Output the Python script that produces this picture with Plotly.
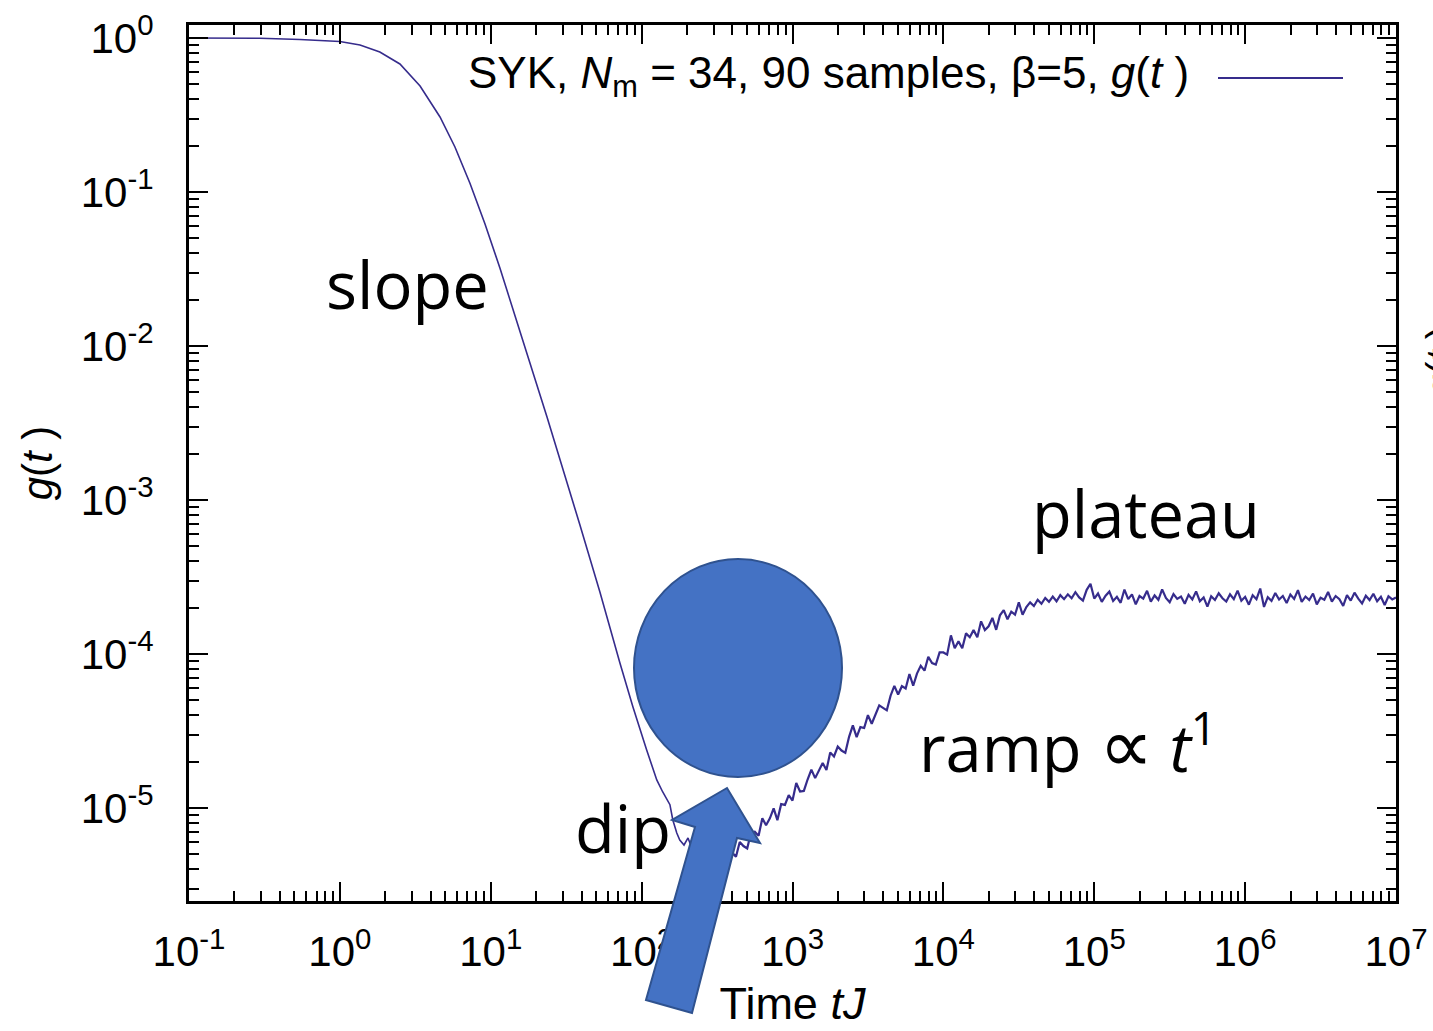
import plotly.graph_objects as go

# ------------------------------------------------------------------ data
# early (smooth) part of the spectral form factor g(t)
t_early = [0.1, 0.295, 0.544, 1.0, 1.36, 1.84, 2.50, 3.40, 4.61, 5.79,
           7.28, 9.16, 11.5, 15.6, 23.6, 39.0, 52.9, 71.8, 87.6, 108,
           126, 138, 154, 161, 171, 179, 191, 203, 215, 244,
           275, 311, 351]
g_early = [1.0, 0.997, 0.978, 0.949, 0.901, 0.811, 0.678, 0.488, 0.307, 0.196,
           0.114, 0.0620, 0.0321, 0.0125, 3.46e-3, 6.88e-4, 2.53e-4, 8.74e-5, 4.53e-5, 2.38e-5,
           1.52e-5, 1.27e-5, 1.05e-5, 8.36e-6, 6.88e-6, 6.20e-6, 5.75e-6, 6.39e-6, 5.50e-6, 5.18e-6,
           5.66e-6, 4.73e-6, 5.34e-6]

# ramp + plateau part (noisy)
t_late = [
    398, 422, 447, 473, 501, 531, 562, 596, 631, 668,
    708, 750, 794, 841, 891, 944, 1000, 1059, 1122, 1189,
    1259, 1334, 1413, 1496, 1585, 1679, 1778, 1884, 1995, 2113,
    2239, 2371, 2512, 2661, 2818, 2985, 3162, 3350, 3548, 3758,
    3981, 4217, 4467, 4732, 5012, 5309, 5623, 5957, 6310, 6683,
    7079, 7499, 7943, 8414, 8913, 9441, 1.000e4, 1.059e4, 1.122e4, 1.189e4,
    1.259e4, 1.334e4, 1.413e4, 1.496e4, 1.585e4, 1.679e4, 1.778e4, 1.884e4, 1.995e4, 2.113e4,
    2.239e4, 2.371e4, 2.512e4, 2.661e4, 2.818e4, 2.985e4, 3.162e4, 3.350e4, 3.548e4, 3.758e4,
    3.981e4, 4.217e4, 4.467e4, 4.732e4, 5.012e4, 5.309e4, 5.623e4, 5.957e4, 6.310e4, 6.683e4,
    7.079e4, 7.499e4, 7.943e4, 8.414e4, 8.913e4, 9.441e4, 1.000e5, 1.059e5, 1.122e5, 1.189e5,
    1.259e5, 1.334e5, 1.413e5, 1.496e5, 1.585e5, 1.679e5, 1.778e5, 1.884e5, 1.995e5, 2.113e5,
    2.239e5, 2.371e5, 2.512e5, 2.661e5, 2.818e5, 2.985e5, 3.162e5, 3.350e5, 3.548e5, 3.758e5,
    3.981e5, 4.217e5, 4.467e5, 4.732e5, 5.012e5, 5.309e5, 5.623e5, 5.957e5, 6.310e5, 6.683e5,
    7.079e5, 7.499e5, 7.943e5, 8.414e5, 8.913e5, 9.441e5, 1.000e6, 1.059e6, 1.122e6, 1.189e6,
    1.259e6, 1.334e6, 1.413e6, 1.496e6, 1.585e6, 1.679e6, 1.778e6, 1.884e6, 1.995e6, 2.113e6,
    2.239e6, 2.371e6, 2.512e6, 2.661e6, 2.818e6, 2.985e6, 3.162e6, 3.350e6, 3.548e6, 3.758e6,
    3.981e6, 4.217e6, 4.467e6, 4.732e6, 5.012e6, 5.309e6, 5.623e6, 5.957e6, 6.310e6, 6.683e6,
    7.079e6, 7.499e6, 7.943e6, 8.414e6, 8.913e6, 9.441e6, 1.000e7,
]
g_late = [
    5.13e-6, 4.83e-6, 6.01e-6, 5.66e-6, 5.46e-6, 6.93e-6, 7.01e-6, 6.61e-6, 8.59e-6, 7.73e-6,
    8.57e-6, 9.93e-6, 8.34e-6, 1.059e-5, 1.047e-5, 1.213e-5, 1.117e-5, 1.452e-5, 1.279e-5, 1.291e-5,
    1.531e-5, 1.774e-5, 1.563e-5, 1.770e-5, 1.959e-5, 1.762e-5, 2.296e-5, 2.163e-5, 2.506e-5, 2.360e-5,
    2.280e-5, 2.897e-5, 3.436e-5, 2.884e-5, 3.350e-5, 3.304e-5, 4.009e-5, 3.524e-5, 4.093e-5, 4.634e-5,
    4.467e-5, 4.305e-5, 5.358e-5, 6.209e-5, 5.458e-5, 6.180e-5, 5.970e-5, 7.413e-5, 6.223e-5, 7.464e-5,
    8.375e-5, 7.798e-5, 9.594e-5, 8.730e-5, 8.531e-5, 1.023e-4, 1.023e-4, 9.908e-5, 1.321e-4, 1.089e-4,
    1.208e-4, 1.091e-4, 1.361e-4, 1.285e-4, 1.429e-4, 1.285e-4, 1.629e-4, 1.432e-4, 1.514e-4, 1.714e-4,
    1.435e-4, 1.782e-4, 1.928e-4, 1.679e-4, 1.884e-4, 1.799e-4, 2.163e-4, 1.799e-4, 2.018e-4, 2.163e-4,
    2.05e-4, 2.25e-4, 2.12e-4, 2.31e-4, 2.18e-4, 2.36e-4, 2.20e-4, 2.41e-4, 2.27e-4, 2.44e-4,
    2.30e-4, 2.52e-4, 2.33e-4, 2.22e-4, 2.61e-4, 2.86e-4, 2.29e-4, 2.47e-4, 2.18e-4, 2.39e-4,
    2.54e-4, 2.21e-4, 2.35e-4, 2.15e-4, 2.62e-4, 2.27e-4, 2.44e-4, 2.10e-4, 2.38e-4, 2.29e-4,
    2.57e-4, 2.19e-4, 2.40e-4, 2.25e-4, 2.63e-4, 2.31e-4, 2.17e-4, 2.45e-4, 2.28e-4, 2.36e-4,
    2.12e-4, 2.42e-4, 2.26e-4, 2.55e-4, 2.20e-4, 2.33e-4, 2.03e-4, 2.37e-4, 2.24e-4, 2.48e-4,
    2.30e-4, 2.19e-4, 2.44e-4, 2.27e-4, 2.58e-4, 2.22e-4, 2.35e-4, 2.09e-4, 2.41e-4, 2.27e-4,
    2.66e-4, 2.02e-4, 2.34e-4, 2.21e-4, 2.49e-4, 2.26e-4, 2.38e-4, 2.14e-4, 2.43e-4, 2.28e-4,
    2.60e-4, 2.18e-4, 2.36e-4, 2.24e-4, 2.47e-4, 2.10e-4, 2.32e-4, 2.25e-4, 2.53e-4, 2.19e-4,
    2.38e-4, 2.27e-4, 2.05e-4, 2.41e-4, 2.22e-4, 2.50e-4, 2.29e-4, 2.13e-4, 2.39e-4, 2.24e-4,
    2.46e-4, 2.20e-4, 2.35e-4, 2.08e-4, 2.37e-4, 2.26e-4, 2.33e-4,
]

series_name = "SYK, <i>N</i><sub>m</sub> = 34, 90 samples, β=5, <i>g</i>(<i>t</i> )"

x_tick_vals = [1e-1, 1e0, 1e1, 1e2, 1e3, 1e4, 1e5, 1e6, 1e7]
x_tick_text = ["10<sup>-1</sup>", "10<sup>0</sup>", "10<sup>1</sup>", "10<sup>2</sup>",
               "10<sup>3</sup>", "10<sup>4</sup>", "10<sup>5</sup>", "10<sup>6</sup>",
               "10<sup>7</sup>"]
y_tick_vals = [1e-5, 1e-4, 1e-3, 1e-2, 1e-1, 1e0]
y_tick_text = ["10<sup>-5</sup>", "10<sup>-4</sup>", "10<sup>-3</sup>", "10<sup>-2</sup>",
               "10<sup>-1</sup>", "10<sup>0</sup>"]

x_title = "Time <i>tJ</i>"
y_title = "<i>g</i>(<i>t</i> )"
region_labels = ["slope", "dip",
                 "ramp <span style='font-size:76px'>∝</span> <i>t</i><sup>1</sup>",
                 "plateau"]

# ------------------------------------------------------------------ layout helpers
W, H = 1433, 1031
L, R, T, B = 189, 1396, 25, 901          # plot area in pixels


def px(x):
    return (x - L) / (R - L)


def py(y):
    return (B - y) / (B - T)


n = min(len(t_late), len(g_late))

line_color = "#362c8c"
gnu_font = "Liberation Sans, Arial, Helvetica, sans-serif"
cal_font = "Open Sans, Noto Sans, sans-serif"

minor_x = [m * 10.0 ** e for e in range(-1, 7) for m in range(2, 10)]
minor_y = [m * 10.0 ** e for e in range(-6, 1) for m in range(2, 10)]

fig = go.Figure()
fig.add_trace(go.Scatter(x=t_early + t_late[:1], y=g_early + g_late[:1], mode="lines",
                         line=dict(color=line_color, width=1.6),
                         name=series_name, showlegend=False))
fig.add_trace(go.Scatter(x=t_late[:n], y=g_late[:n], mode="lines",
                         line=dict(color=line_color, width=2.2),
                         name=series_name, showlegend=False))

axis_common = dict(
    type="log", ticks="inside", ticklen=19, tickwidth=2, tickcolor="black",
    showline=True, linecolor="black", linewidth=3, mirror="ticks",
    showgrid=False, zeroline=False,
    tickfont=dict(family=gnu_font, size=42, color="black"),
)

fig.update_xaxes(
    **axis_common, range=[-1, 7], tickmode="array",
    tickvals=x_tick_vals, ticktext=x_tick_text, ticklabelstandoff=12,
    minor=dict(tickvals=minor_x, ticks="inside", ticklen=10, tickwidth=2,
               tickcolor="black", showgrid=False),
    title=dict(text=x_title, font=dict(family=gnu_font, size=45, color="black"),
               standoff=14),
)
fig.update_yaxes(
    **axis_common, range=[-5.604, 0.0844], tickmode="array",
    tickvals=y_tick_vals, ticktext=y_tick_text, ticklabelstandoff=24,
    minor=dict(tickvals=minor_y, ticks="inside", ticklen=10, tickwidth=2,
               tickcolor="black", showgrid=False),
    title=dict(text=y_title, font=dict(family=gnu_font, size=42, color="black"),
               standoff=16),
)

# legend (gnuplot style: text then line sample on the right)
fig.add_annotation(x=px(1191), y=py(76), xref="paper", yref="paper",
                   text=series_name, showarrow=False, xanchor="right", yanchor="middle",
                   font=dict(family=gnu_font, size=44, color="black"))
fig.add_shape(type="line", xref="paper", yref="paper",
              x0=px(1218), x1=px(1343), y0=py(78), y1=py(78),
              line=dict(color=line_color, width=2))

# region labels
label_pos = [(407, 284), (623, 828), (1068, 742), (1146, 513)]
for txt, (lx, ly) in zip(region_labels, label_pos):
    fig.add_annotation(x=px(lx), y=py(ly), xref="paper", yref="paper", text=txt,
                       showarrow=False, xanchor="center", yanchor="middle",
                       font=dict(family=cal_font, size=65, color="black"))

# blue circle
fig.add_shape(type="circle", xref="paper", yref="paper",
              x0=px(634), x1=px(842), y0=py(777), y1=py(559),
              fillcolor="#4472C4", line=dict(color="#2F528F", width=2), layer="above")

# block arrow pointing at the dip
arrow_pts = [(646, 1000), (695, 827), (672, 820), (727, 788), (760, 843), (737, 838), (692, 1013)]
path = "M " + " L ".join(f"{px(x):.5f},{py(y):.5f}" for x, y in arrow_pts) + " Z"
fig.add_shape(type="path", xref="paper", yref="paper", path=path,
              fillcolor="#4472C4", line=dict(color="#2F528F", width=2), layer="above")

# cut-off label of a neighbouring panel at the right edge
fig.add_annotation(x=px(1441), y=py(362), xref="paper", yref="paper", text=y_title,
                   showarrow=False, textangle=-90, xanchor="center", yanchor="middle",
                   font=dict(family=gnu_font, size=40, color="black"))

fig.update_layout(
    width=W, height=H,
    margin=dict(l=L, r=W - R, t=T, b=H - B, autoexpand=False),
    paper_bgcolor="white", plot_bgcolor="white",
    showlegend=False,
)

fig.write_html("out.html")
